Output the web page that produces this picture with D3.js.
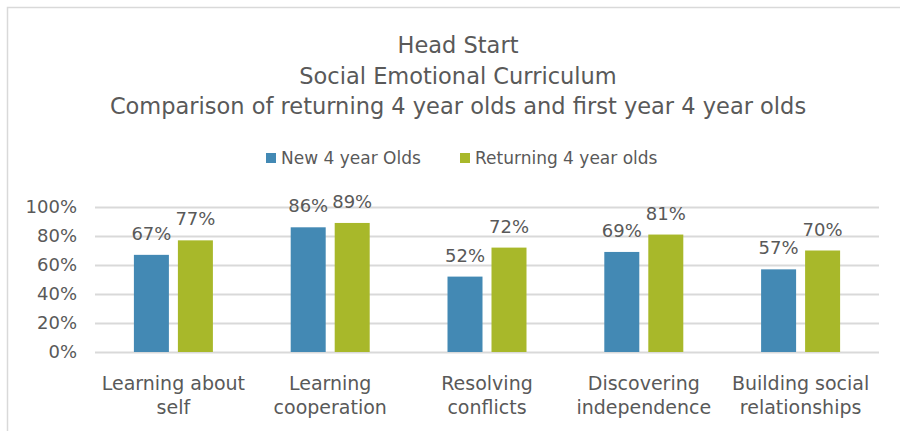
<!DOCTYPE html>
<html>
<head>
<meta charset="utf-8">
<script src="https://cdn.jsdelivr.net/npm/d3@7"></script>
<style>
  body { margin: 0; background: #fff; }
  svg text { font-family: "DejaVu Sans", sans-serif; fill: #595959; }
</style>
</head>
<body>
<svg id="chart" width="900" height="431"></svg>
<script>
var categories = [
  ["Learning about", "self"],
  ["Learning", "cooperation"],
  ["Resolving", "conflicts"],
  ["Discovering", "independence"],
  ["Building social", "relationships"]
];
var seriesNames = ["New 4 year Olds", "Returning 4 year olds"];
var newOlds = [0.67, 0.86, 0.52, 0.69, 0.57];
var returningOlds = [0.77, 0.89, 0.72, 0.81, 0.70];
var yTicks = [0, 0.2, 0.4, 0.6, 0.8, 1.0];
var titleLines = [
  "Head Start",
  "Social Emotional Curriculum",
  "Comparison of returning 4 year olds and first year 4 year olds"
];
var colors = ["#4389b4", "#a8b82a"];

var svg = d3.select("#chart");

// chart frame (left and top edges show in the picture)
svg.append("path")
  .attr("d", "M7.5,431 V7.5 H900")
  .attr("fill", "none")
  .attr("stroke", "#d9d9d9")
  .attr("stroke-width", 1.5);

var margin = { left: 95, right: 21, top: 207, bottom: 79 };
var width = 900 - margin.left - margin.right;
var height = 431 - margin.top - margin.bottom;

var g = svg.append("g").attr("transform", "translate(" + margin.left + "," + margin.top + ")");

var x = d3.scaleBand().domain(d3.range(categories.length)).range([0, width]);
var y = d3.scaleLinear().domain([0, 1]).range([height, 0]);

// gridlines
g.selectAll("line.grid").data(yTicks).enter().append("line")
  .attr("class", "grid")
  .attr("x1", 0).attr("x2", width)
  .attr("y1", function (d){ return Math.round(y(d)) + 0.5; })
  .attr("y2", function (d){ return Math.round(y(d)) + 0.5; })
  .attr("stroke", "#d9d9d9")
  .attr("stroke-width", 2);

// y tick labels
g.selectAll("text.ytick").data(yTicks).enter().append("text")
  .attr("class", "ytick")
  .attr("x", -18)
  .attr("y", function (d){ return y(d); })
  .attr("dy", "0.35em")
  .attr("text-anchor", "end")
  .style("font-size", "18px")
  .text(d3.format(".0%"));

var barW = 35, gap = 9;
var series = [newOlds, returningOlds];

series.forEach(function (values, si){
  var off = si === 0 ? -(gap / 2 + barW) : gap / 2;
  var bars = g.selectAll("rect.s" + si).data(values).enter();
  bars.append("rect")
    .attr("class", "s" + si)
    .attr("x", function (d, i){ return x(i) + x.bandwidth() / 2 + off; })
    .attr("width", barW)
    .attr("y", function (d){ return y(d); })
    .attr("height", function (d){ return height - y(d); })
    .attr("fill", colors[si]);
  g.selectAll("text.lab" + si).data(values).enter().append("text")
    .attr("class", "lab" + si)
    .attr("x", function (d, i){ return x(i) + x.bandwidth() / 2 + off + barW / 2; })
    .attr("y", function (d){ return y(d) - 15; })
    .attr("text-anchor", "middle")
    .style("font-size", "18px")
    .text(d3.format(".0%"));
});

// category labels
var cat = g.selectAll("text.cat").data(categories).enter().append("text")
  .attr("class", "cat")
  .attr("text-anchor", "middle")
  .attr("transform", function (d, i){ return "translate(" + (x(i) + x.bandwidth() / 2) + "," + (height + 38) + ")"; })
  .style("font-size", "19px");
cat.selectAll("tspan").data(function (d){ return d; }).enter().append("tspan")
  .attr("x", 0)
  .attr("dy", function (d, i){ return i === 0 ? 0 : 24; })
  .text(function (d){ return d; });

// title
svg.selectAll("text.title").data(titleLines).enter().append("text")
  .attr("class", "title")
  .attr("x", 458)
  .attr("y", function (d, i){ return 53 + i * 30.5; })
  .attr("text-anchor", "middle")
  .style("font-size", "22.5px")
  .text(function (d){ return d; });

// legend
var legendX = [266, 460];
var leg = svg.selectAll("g.legend").data(seriesNames).enter().append("g")
  .attr("class", "legend")
  .attr("transform", function (d, i){ return "translate(" + legendX[i] + ",153)"; });
leg.append("rect").attr("width", 10).attr("height", 10)
  .attr("fill", function (d, i){ return colors[i]; });
leg.append("text").attr("x", 15).attr("y", 5).attr("dy", "0.35em")
  .style("font-size", "17px")
  .text(function (d){ return d; });
</script>
</body>
</html>
